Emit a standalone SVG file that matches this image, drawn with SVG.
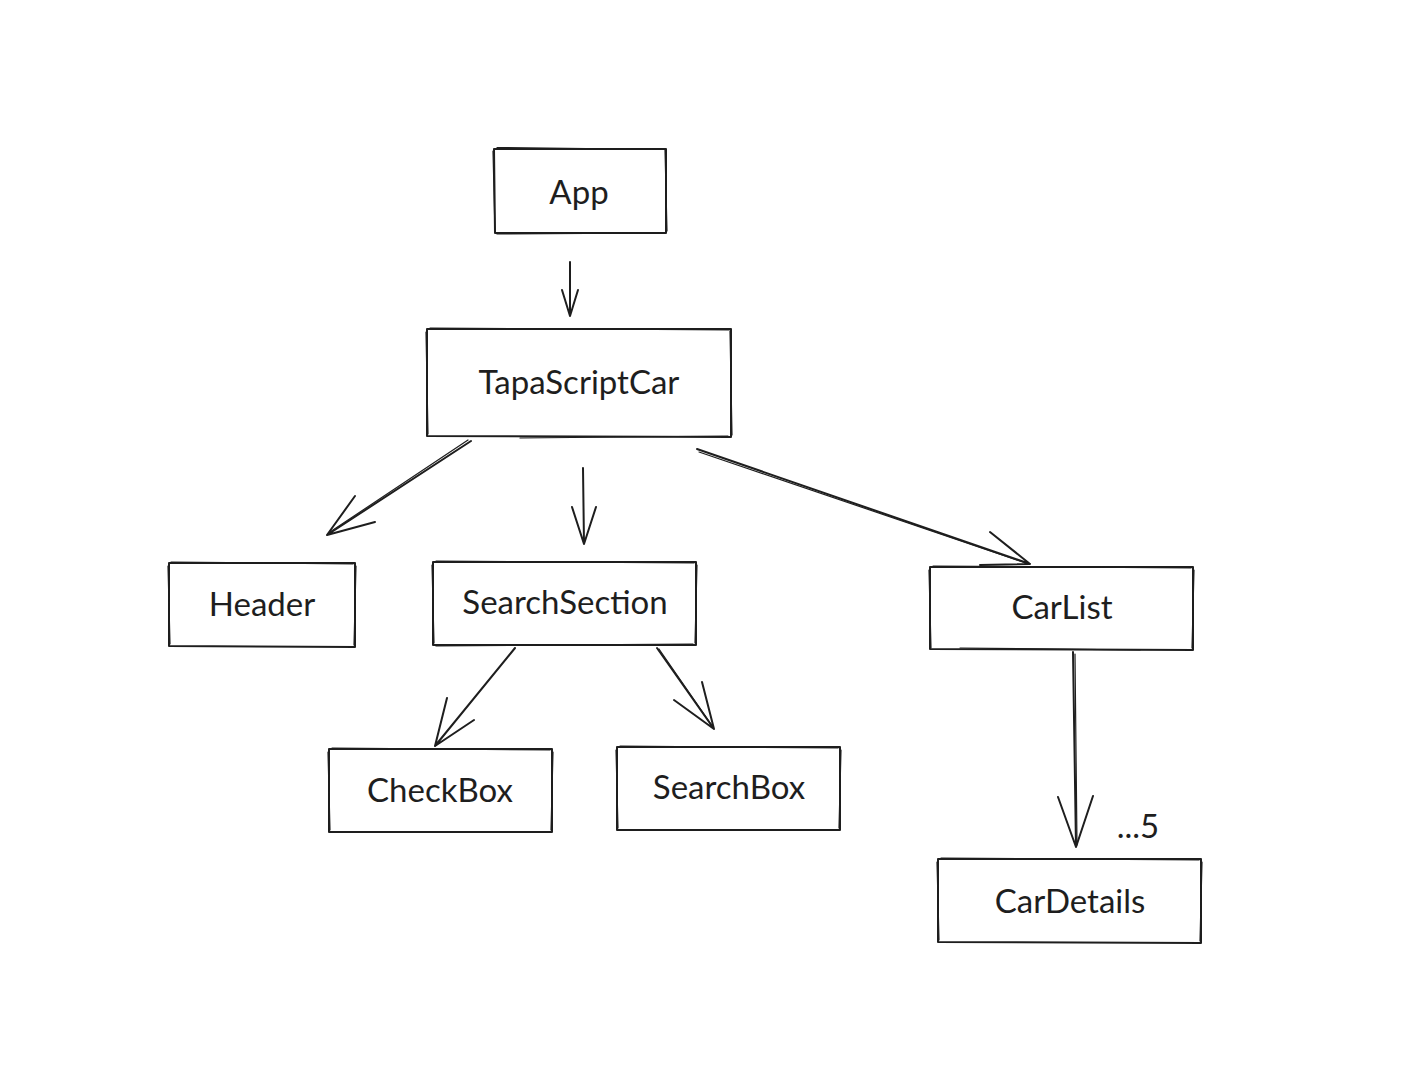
<svg xmlns="http://www.w3.org/2000/svg" width="1404" height="1072" viewBox="0 0 1404 1072">
<style>
.box{fill:none;stroke:#1e1e1e;stroke-width:2;stroke-linecap:round;stroke-linejoin:round}
.box2{fill:none;stroke:#1e1e1e;stroke-width:1.2;stroke-linecap:round}
.lbl{font-family:Lato,"Noto Sans",sans-serif;font-size:33px;fill:#1e1e1e;text-anchor:middle}
.ar{fill:none;stroke:#1e1e1e;stroke-width:2;stroke-linecap:round;stroke-linejoin:round}
</style>
<rect width="1404" height="1072" fill="#ffffff"/>
<g id="app">
<path class="box" d="M494,149 L666,149 L666,233 L495,233 Z"/>
<path class="box2" d="M497,147.5 L664,149.5 M493,151 L495,232 M665,150 L667,231 M497,234 L664,233"/>
<text class="lbl" x="579" y="204">App</text>
</g>
<g id="tapascriptcar">
<path class="box" d="M427,329 L731,329 L731,437 L427,436 Z"/>
<path class="box2" d="M430,328 L729,330 M426,332 L428,434 M730,331 L732,435 M520,438 L728,436"/>
<text class="lbl" x="579" y="394">TapaScriptCar</text>
</g>
<g id="header">
<path class="box" d="M169,563 L355,563 L355,647 L169,646 Z"/>
<path class="box2" d="M171,562 L353,564 M168,566 L170,644 M356,566 L354,645"/>
<text class="lbl" x="262" y="616">Header</text>
</g>
<g id="searchsection">
<path class="box" d="M433,562 L696,562 L696,645 L433,645 Z"/>
<path class="box2" d="M436,561 L694,563 M432,565 L434,643 M697,565 L695,643 M436,646 L693,644"/>
<text class="lbl" x="565" y="614">SearchSection</text>
</g>
<g id="carlist">
<path class="box" d="M930,567 L1193,567 L1193,650 L930,649 Z"/>
<path class="box2" d="M933,566 L1191,568 M929,570 L931,648 M1194,570 L1192,648 M960,648 L1140,650"/>
<text class="lbl" x="1062" y="619">CarList</text>
</g>
<g id="checkbox">
<path class="box" d="M329,749 L552,749 L552,832 L329,832 Z"/>
<path class="box2" d="M332,748 L550,750 M328,752 L330,830 M553,752 L551,830"/>
<text class="lbl" x="440" y="802">CheckBox</text>
</g>
<g id="searchbox">
<path class="box" d="M617,747 L840,747 L840,830 L617,830 Z"/>
<path class="box2" d="M620,746 L838,748 M616,750 L618,828 M841,750 L839,828"/>
<text class="lbl" x="729" y="799">SearchBox</text>
</g>
<g id="cardetails">
<path class="box" d="M938,859 L1201,859 L1201,943 L938,942 Z"/>
<path class="box2" d="M941,858 L1199,860 M937,862 L939,940 M1202,862 L1200,941"/>
<text class="lbl" x="1070" y="913">CarDetails</text>
</g>
<g id="note">
<text class="lbl" x="1138" y="838">...5</text>
</g>
<g id="connectors">
<path class="ar" d="M570,262 L570,316 M562,290 L570,316 L578,290"/>
<path class="ar" d="M471,441 L327,535 M355,496 L327,535 L375,522"/>
<path class="box2" d="M468,440 L330,532"/>
<path class="ar" d="M583,468 L584,544 M572,507 L584,544 L596,507"/>
<path class="ar" d="M697,449 L1030,564 M990,532 L1030,564 L980,565"/>
<path class="box2" d="M699,452 L1026,563"/>
<path class="ar" d="M515,648 L435,746 M447,698 L435,746 L474,720"/>
<path class="ar" d="M657,648 L714,729 M702,682 L714,729 L674,700"/>
<path class="box2" d="M659,649 L713,727"/>
<path class="ar" d="M1073,652 L1076,847 M1058,797 L1076,847 L1093,796"/>
<path class="box2" d="M1075,654 L1077,845"/>
</g>
</svg>
